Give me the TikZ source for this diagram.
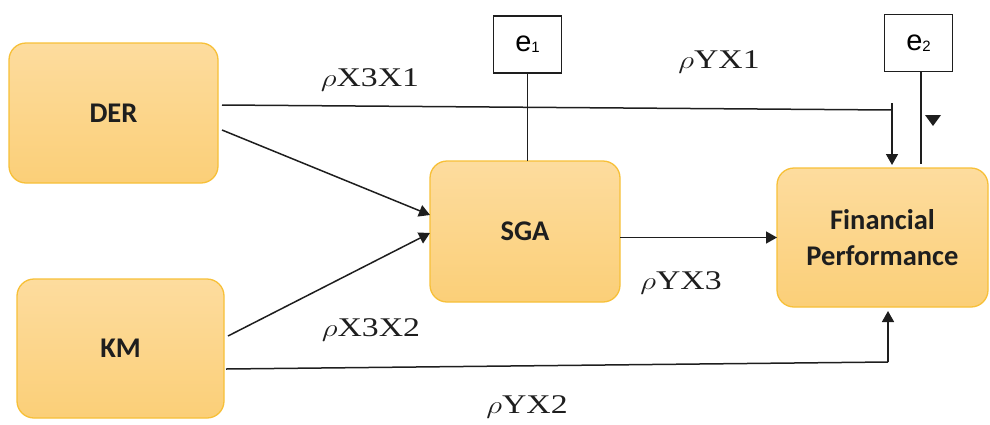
\documentclass[tikz,border=0pt]{standalone}
\usepackage{fontspec}
\setmainfont{Liberation Serif}
\newfontfamily\boxfont{Carlito}
\newfontfamily\errfont{Liberation Sans}
\usetikzlibrary{arrows.meta,calc}

\definecolor{boxtop}{HTML}{FDDC9E}
\definecolor{boxbot}{HTML}{FBCF78}
\definecolor{boxline}{HTML}{F7C038}
\definecolor{ink}{HTML}{1E1E1E}

\tikzset{
  varbox/.style={rounded corners=17pt, draw=boxline, line width=1.3pt,
    top color=boxtop, bottom color=boxbot, inner sep=0pt, outer sep=0pt,
    font=\boxfont\bfseries\fontsize{28.5}{36}\selectfont, text=ink, align=center},
  errbox/.style={draw=ink, line width=1.3pt, fill=white, inner sep=0pt, outer sep=0pt,
    minimum width=68pt, minimum height=57pt},
  link/.style={draw=ink, line width=1.5pt},
  arr/.style={link, -{Triangle[width=12pt,length=11pt]}},
  coef/.style={font=\fontsize{27}{30}\selectfont, text=ink, inner sep=0pt}
}
\newcommand{\errlabel}[1]{{\errfont\fontsize{29}{30}\selectfont e}{\errfont\fontsize{15}{16}\selectfont\raisebox{-1pt}{#1}}}
% path coefficients are set in a widened serif
\newcommand{\pathcoef}[1]{\scalebox{1.25}[1]{$\rho$#1}}

\begin{document}
\begin{tikzpicture}[x=1pt,y=-1pt]
\useasboundingbox (0,0) rectangle (990,424);

% variables
\node[varbox, minimum width=209pt, minimum height=140pt] (DER) at (113.5,113) {DER};
\node[varbox, minimum width=207pt, minimum height=139pt] (KM)  at (120.5,348.5) {KM};
\node[varbox, minimum width=190pt, minimum height=141pt] (SGA) at (525,231.5) {SGA};
\node[varbox, minimum width=211pt, minimum height=139pt] (FP)  at (882.5,237.5) {Financial\\Performance};

% error terms
\node[errbox] (e1) at (527.5,44.5) {\errlabel{1}};
\node[errbox] (e2) at (918.5,43) {\errlabel{2}};

% DER -> Financial Performance (routed over the top)
\coordinate (corner1) at (892,110);
\draw[link] ($(DER.east)+(4,-8)$) -- (corner1);
\draw[arr] ($(corner1)+(0,-7)$) -- ($(FP.north -| corner1)+(0,-3)$);

% paths into SGA
\draw[arr] ($(DER.east)+(4,17)$) -- ($(SGA.west)+(0,-16.5)$);
\draw[arr] ($(KM.east)+(4,-12.5)$) -- ($(SGA.west)+(0,1.5)$);

% SGA -> Financial Performance
\draw[arr] ($(SGA.east)+(0,6)$) -- ($(FP.west)+(0,0)$);

% KM -> Financial Performance (routed underneath)
\coordinate (corner2) at (888,362);
\draw[link] ($(KM.east)+(2,20.5)$) -- (corner2);
\draw[arr] (corner2) -- ($(FP.south -| corner2)+(0,4)$);

% error links
\draw[link] (e1.south) -- (e1.south |- SGA.north);
\coordinate (e2foot) at (921,164);
\draw[link] (e2.south -| e2foot) -- (e2foot);
\fill[ink] (925,115) -- (941,115) -- (933,126) -- cycle;

% path coefficients
\node[coef] (c31) at (370,80) {\pathcoef{X3X1}};
\node[coef] (cy1) at (719,62) {\pathcoef{YX1}};
\node[coef] (cy3) at (681,283) {\pathcoef{YX3}};
\node[coef] (c32) at (371,330) {\pathcoef{X3X2}};
\node[coef] (cy2) at (527,407) {\pathcoef{YX2}};
\end{tikzpicture}
\end{document}
